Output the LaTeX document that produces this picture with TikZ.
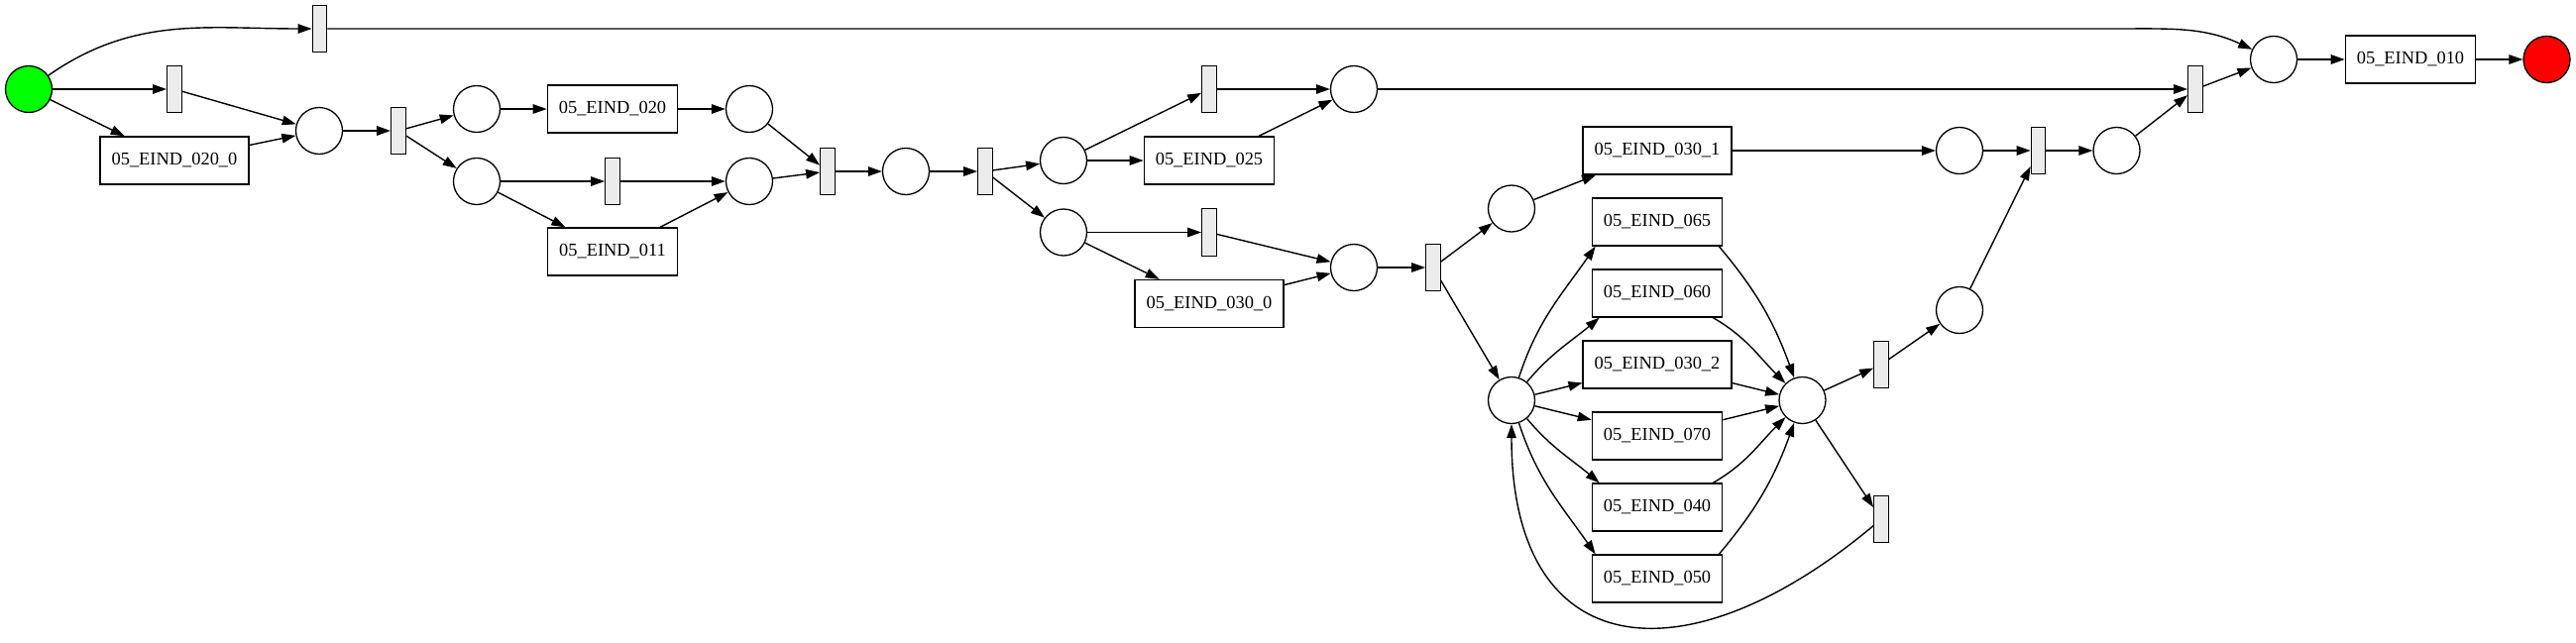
\documentclass[tikz,border=0pt]{standalone}
\usepackage{fontspec}
\setmainfont{Liberation Serif}
\usetikzlibrary{arrows.meta, positioning}

\begin{document}
\begin{tikzpicture}[
    on grid,
    plc/.style={circle, draw, line width=1.3pt, minimum size=47pt, inner sep=0pt},
    srcplc/.style={plc, fill=green},
    snkplc/.style={plc, fill=red},
    trn/.style={rectangle, draw, line width=1.3pt, fill=gray!15,
                minimum width=14.5pt, minimum height=47.5pt, inner sep=0pt},
    act/.style={rectangle, draw, line width=1.3pt, minimum width=131pt, minimum height=48pt,
                inner xsep=11.5pt, font=\fontsize{18.4}{22}\selectfont},
    arr/.style={-{Triangle[length=14pt, width=9.5pt]}, line width=1.4pt}
  ]
    \useasboundingbox (0,0) rectangle (2599pt,-648pt);

    \node[srcplc] (src) at (29pt,-90pt) {};
    \node[trn, right=147pt of src] (t1) {};
    \node[trn, above right=61pt and 293.5pt of src] (t0) {};
    \node[act, below=72pt of t1] (e020_0) {05\_EIND\_020\_0};
    \node[plc, below right=42pt and 146pt of t1] (p1) {};
    \node[trn, right=80pt of p1] (t2) {};
    \node[plc, above right=22pt and 79pt of t2] (p2) {};
    \node[plc, below right=51pt and 79pt of t2] (p3) {};
    \node[act, right=137pt of p2] (e020) {05\_EIND\_020};
    \node[trn, right=137pt of p3] (t3) {};
    \node[act, below=71pt of t3] (e011) {05\_EIND\_011};
    \node[plc, right=138pt of e020] (p4) {};
    \node[plc, right=138pt of t3] (p5) {};
    \node[trn, above right=10pt and 79pt of p5] (t4) {};
    \node[plc, right=79pt of t4] (p6) {};
    \node[trn, right=80pt of p6] (t5) {};
    \node[plc, above right=11pt and 79pt of t5] (p7) {};
    \node[plc, below right=61.5pt and 79pt of t5] (p8) {};
    \node[act, right=147pt of p7] (e025) {05\_EIND\_025};
    \node[trn, above=72pt of e025] (t6) {};
    \node[trn, right=147pt of p8] (t7) {};
    \node[act, below=72pt of t7] (e030_0) {05\_EIND\_030\_0};
    \node[plc, right=146pt of t6] (p9) {};
    \node[plc, below right=35.5pt and 146pt of t7] (p10) {};
    \node[trn, right=80pt of p10] (t8) {};
    \node[plc, above right=59.5pt and 79pt of t8] (p11) {};
    \node[plc, below right=134pt and 79pt of t8] (p12) {};
    \node[act, above right=58.5pt and 147pt of p11] (e030_1) {05\_EIND\_030\_1};
    \node[act, above right=36pt and 147pt of p12] (e030_2) {05\_EIND\_030\_2};
    \node[act, above=72pt of e030_2] (e060) {05\_EIND\_060};
    \node[act, above=72pt of e060] (e065) {05\_EIND\_065};
    \node[act, below=72pt of e030_2] (e070) {05\_EIND\_070};
    \node[act, below=72pt of e070] (e040) {05\_EIND\_040};
    \node[act, below=72pt of e040] (e050) {05\_EIND\_050};
    \node[plc, right=293.5pt of p12] (p13) {};
    \node[trn, above right=36pt and 79.5pt of p13] (t9) {};
    \node[trn, below right=120pt and 79.5pt of p13] (t10) {};
    \node[plc, above right=55pt and 79pt of t9] (p14) {};
    \node[plc, right=305pt of e030_1] (p15) {};
    \node[trn, right=79.5pt of p15] (t11) {};
    \node[plc, right=79pt of t11] (p16) {};
    \node[trn, above right=62pt and 79.5pt of p16] (t12) {};
    \node[plc, above right=30pt and 79pt of t12] (p17) {};
    \node[act, right=138pt of p17] (e010) {05\_EIND\_010};
    \node[snkplc, right=137.5pt of e010] (snk) {};

    \draw[arr](src) to[out=35,in=180] (t0);
    \draw[arr](src)--(t1);     \draw[arr](src)--(e020_0);
    \draw[arr](t1)--(p1);      \draw[arr](e020_0)--(p1);
    \draw[arr](p1)--(t2);
    \draw[arr](t2)--(p2);      \draw[arr](t2)--(p3);
    \draw[arr](p2)--(e020);    \draw[arr](p3)--(t3);    \draw[arr](p3)--(e011);
    \draw[arr](e020)--(p4);    \draw[arr](t3)--(p5);    \draw[arr](e011)--(p5);
    \draw[arr](p4)--(t4);      \draw[arr](p5)--(t4);
    \draw[arr](t4)--(p6);      \draw[arr](p6)--(t5);
    \draw[arr](t5)--(p7);      \draw[arr](t5)--(p8);
    \draw[arr](p7)--(t6);      \draw[arr](p7)--(e025);
    \draw[arr](t6)--(p9);      \draw[arr](e025)--(p9);
    \draw[arr](p8)--(t7);      \draw[arr](p8)--(e030_0);
    \draw[arr](t7)--(p10);     \draw[arr](e030_0)--(p10);
    \draw[arr](p10)--(t8);
    \draw[arr](t8)--(p11);     \draw[arr](t8)--(p12);
    \draw[arr](p11)--(e030_1); \draw[arr](e030_1)--(p15);

    % fan out of p12 and back into p13
    \draw[arr](p12) to[out=72,in=235] ([xshift=4pt]e065.south west);
    \draw[arr](p12) to[out=50,in=220] ([xshift=8pt]e060.south west);
    \draw[arr](p12)--(e030_2);
    \draw[arr](p12)--(e070);
    \draw[arr](p12) to[out=-50,in=140] ([xshift=8pt]e040.north west);
    \draw[arr](p12) to[out=-72,in=125] ([xshift=4pt]e050.north west);
    \draw[arr]([xshift=-4pt]e065.south east) to[out=-50,in=110] (p13);
    \draw[arr]([xshift=-10pt]e060.south east) to[out=-30,in=135] (p13);
    \draw[arr](e030_2)--(p13);
    \draw[arr](e070)--(p13);
    \draw[arr]([xshift=-10pt]e040.north east) to[out=30,in=225] (p13);
    \draw[arr]([xshift=-4pt]e050.north east) to[out=50,in=250] (p13);

    \draw[arr](p13)--(t9);     \draw[arr](p13)--(t10);
    \draw[arr](t10) to[out=220,in=270,looseness=1.65] (p12);
    \draw[arr](t9)--(p14);     \draw[arr](p14)--(t11);
    \draw[arr](p15)--(t11);    \draw[arr](t11)--(p16);
    \draw[arr](p16)--(t12);    \draw[arr](p9)--(t12);
    \draw[arr](t12)--(p17);
    \draw[arr](t0)--(t0 -| p16) to[out=0,in=155] (p17);
    \draw[arr](p17)--(e010);   \draw[arr](e010)--(snk);
  \end{tikzpicture}
\end{document}
